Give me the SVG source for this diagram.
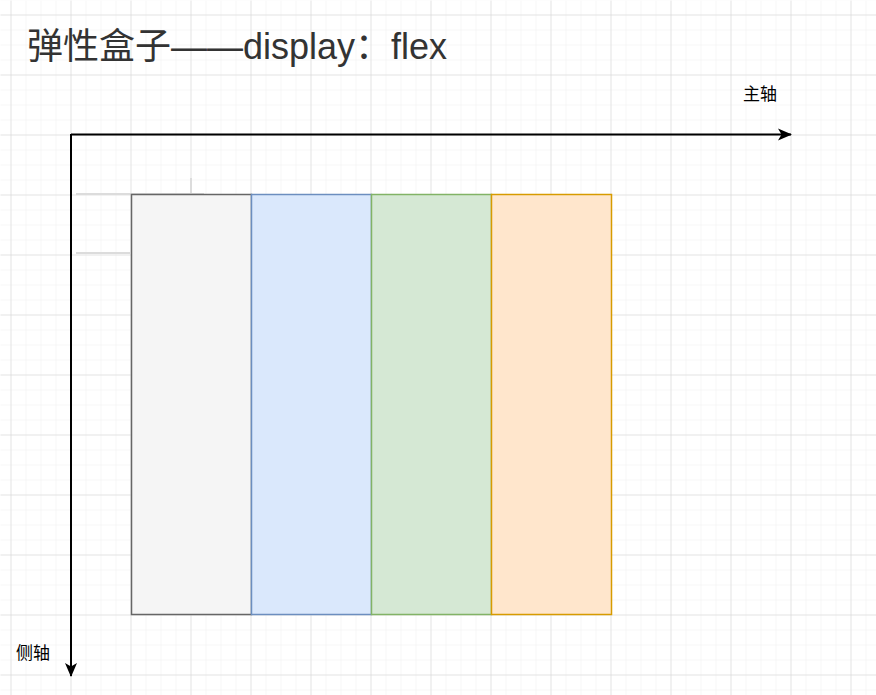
<svg xmlns="http://www.w3.org/2000/svg" width="876" height="695" viewBox="0 0 876 695">
<defs>
<pattern id="minor" x="10" y="14" width="15" height="15" patternUnits="userSpaceOnUse">
<path d="M15 0H0V15" fill="none" stroke="#f0f0f0" stroke-width="1"/>
</pattern>
<pattern id="major" x="10" y="14" width="60" height="60" patternUnits="userSpaceOnUse">
<path d="M60 0H0V60" fill="none" stroke="#d3d3d3" stroke-width="1"/>
</pattern>
<marker id="arr" markerWidth="14" markerHeight="14" refX="13" refY="7" orient="auto" markerUnits="userSpaceOnUse">
<path d="M0 1 L14 7 L0 13 L3.5 7 Z" fill="#000"/>
</marker>
<style>
.lbl{font-family:"Liberation Sans","Noto Sans CJK SC",sans-serif;font-size:17px;fill:#000}
.title{font-family:"Liberation Sans","Noto Sans CJK SC",sans-serif;font-size:36px;fill:#333}
.ax{stroke:#000;stroke-width:2;fill:none}
</style>
</defs>
<rect width="876" height="695" fill="#fff"/>
<rect width="876" height="695" fill="url(#minor)" transform="translate(0.5,0.5)"/>
<rect width="876" height="695" fill="url(#major)" transform="translate(0.5,0.5)"/>
<g id="artifacts" stroke="#dcdcdc" stroke-width="2">
<path d="M76 194H204"/><path d="M191 178V193"/><path d="M76 253H130"/>
</g>
<g id="title"><text class="title" x="27" y="59">弹性盒子——display：flex</text></g>
<g id="box1"><rect x="131.5" y="194.5" width="120" height="420" fill="#f5f5f5" stroke="#666666" stroke-width="1.5"/></g>
<g id="box2"><rect x="251.5" y="194.5" width="120" height="420" fill="#dae8fc" stroke="#6c8ebf" stroke-width="1.5"/></g>
<g id="box3"><rect x="371.5" y="194.5" width="120" height="420" fill="#d5e8d4" stroke="#82b366" stroke-width="1.5"/></g>
<g id="box4"><rect x="491.5" y="194.5" width="120" height="420" fill="#ffe6cc" stroke="#d79b00" stroke-width="1.5"/></g>
<g id="connectors">
<path class="ax" d="M71 134.5H791" marker-end="url(#arr)"/>
<path class="ax" d="M71 134V676" marker-end="url(#arr)"/>
</g>
<g id="main-label"><text class="lbl" x="743" y="100">主轴</text></g>
<g id="cross-label"><text class="lbl" x="16" y="659">侧轴</text></g>
</svg>
